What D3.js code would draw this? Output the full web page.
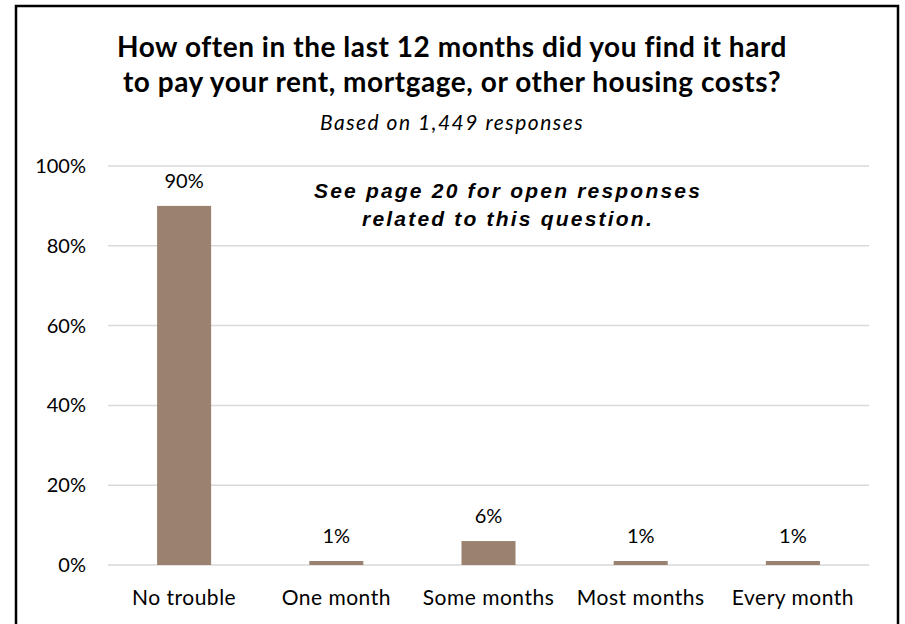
<!DOCTYPE html>
<html>
<head>
<meta charset="utf-8">
<script src="https://cdn.jsdelivr.net/npm/d3@7"></script>
<style>
  html, body { margin: 0; padding: 0; background: #fff; }
  svg { display: block; }
</style>
</head>
<body>
<svg id="chart" width="905" height="624"></svg>
<script>
// Survey question: difficulty paying housing costs
const categories = ["No trouble", "One month", "Some months", "Most months", "Every month"];
const shares = [90, 1, 6, 1, 1];
const tickValues = [0, 20, 40, 60, 80, 100];
const titleLines = [
  "How often in the last 12 months did you find it hard",
  "to pay your rent, mortgage, or other housing costs?"
];
const subtitle = "Based on 1,449 responses";
const noteLines = ["See page 20 for open responses", "related to this question."];

const svg = d3.select("#chart");
const W = 905, H = 624;
const body = "Lato, 'Open Sans', sans-serif";
const arial = "'Liberation Sans', Arial, sans-serif";

// Outer frame
svg.append("rect")
  .attr("x", 16).attr("y", 6)
  .attr("width", 882).attr("height", 640)
  .attr("fill", "#fff")
  .attr("stroke", "#000").attr("stroke-width", 2.5);

// Title block
svg.selectAll("text.title").data(titleLines).join("text")
  .attr("class", "title")
  .attr("x", 452).attr("y", (d, i) => 57 + i * 35)
  .attr("text-anchor", "middle")
  .attr("font-family", body).attr("font-weight", 700).attr("font-size", 28)
  .attr("letter-spacing", 0.55)
  .attr("fill", "#000")
  .text(d => d);

svg.append("text")
  .attr("x", 452).attr("y", 130)
  .attr("text-anchor", "middle")
  .attr("font-family", body).attr("font-style", "italic").attr("font-size", 21)
  .attr("letter-spacing", 1.5)
  .attr("fill", "#000")
  .text(subtitle);

// Plot area
const margin = { left: 108, right: 36, top: 166, bottom: 59 };
const x = d3.scaleBand()
  .domain(categories)
  .range([margin.left, W - margin.right])
  .paddingInner(0.645)
  .paddingOuter(0.3225);
const y = d3.scaleLinear().domain([0, 100]).range([565, margin.top]);

// Gridlines
svg.append("g")
  .selectAll("line").data(tickValues).join("line")
  .attr("x1", margin.left).attr("x2", W - margin.right)
  .attr("y1", d => y(d)).attr("y2", d => y(d))
  .attr("stroke", "#d9d9d9").attr("stroke-width", 1.5);

// Y axis labels
const yAxis = d3.axisLeft(y).tickValues(tickValues).tickFormat(d => d + "%").tickSize(0).tickPadding(0);
const yg = svg.append("g").attr("transform", "translate(86,0)").call(yAxis);
yg.select(".domain").remove();
yg.selectAll("text")
  .attr("font-family", body).attr("font-size", 20).attr("fill", "#000");

// Bars
svg.append("g")
  .selectAll("rect").data(shares).join("rect")
  .attr("x", (d, i) => x(categories[i]))
  .attr("width", x.bandwidth())
  .attr("y", d => y(d))
  .attr("height", d => y(0) - y(d))
  .attr("fill", "#9b8170");

// Value labels
svg.append("g")
  .selectAll("text").data(shares).join("text")
  .attr("x", (d, i) => x(categories[i]) + x.bandwidth() / 2)
  .attr("y", d => y(d) - 18)
  .attr("text-anchor", "middle")
  .attr("font-family", body).attr("font-size", 20).attr("fill", "#000")
  .text(d => d + "%");

// X axis category labels
const xAxis = d3.axisBottom(x).tickSize(0).tickPadding(0);
const xg = svg.append("g").attr("transform", "translate(0,605)").call(xAxis);
xg.select(".domain").remove();
xg.selectAll("text")
  .attr("dy", 0)
  .attr("font-family", body).attr("font-size", 21).attr("letter-spacing", 0.5).attr("fill", "#000");

// Note about open responses
svg.selectAll("text.note").data(noteLines).join("text")
  .attr("class", "note")
  .attr("x", 508).attr("y", (d, i) => 198 + i * 28)
  .attr("text-anchor", "middle")
  .attr("font-family", arial).attr("font-weight", 700).attr("font-style", "italic")
  .attr("font-size", 21).attr("letter-spacing", 2.2).attr("fill", "#000")
  .text(d => d);
</script>
</body>
</html>
